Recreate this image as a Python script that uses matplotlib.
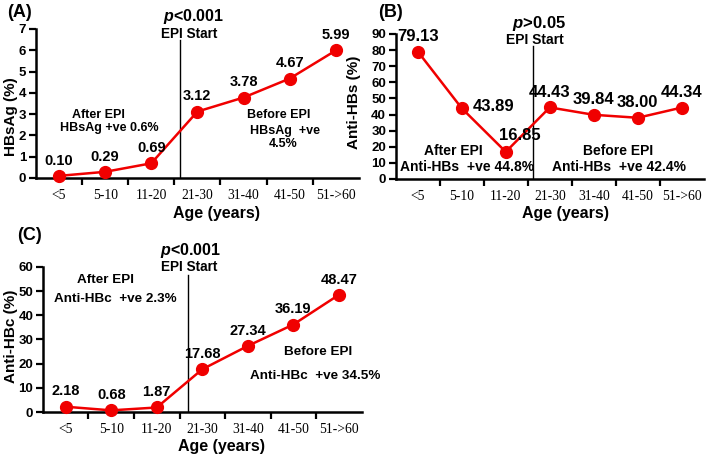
import matplotlib
matplotlib.use("Agg")
import matplotlib.pyplot as plt

plt.rcParams['font.family'] = ['Liberation Sans', 'DejaVu Sans']
plt.rcParams['font.weight'] = 'bold'
plt.rcParams['mathtext.fontset'] = 'custom'
plt.rcParams['mathtext.it'] = 'Liberation Sans:italic:bold'
plt.rcParams['mathtext.rm'] = 'Liberation Sans:bold'

# data
age_groups = ["<5", "5-10", "11-20", "21-30", "31-40", "41-50", "51->60"]
hbsag = [0.10, 0.29, 0.69, 3.12, 3.78, 4.67, 5.99]
anti_hbs = [79.13, 43.89, 16.85, 44.43, 39.84, 38.00, 44.34]
anti_hbc = [2.18, 0.68, 1.87, 17.68, 27.34, 36.19, 48.47]

RED = "#F00000"

fig = plt.figure(figsize=(7.08, 4.55), dpi=100)
axA = fig.add_axes([0.0508, 0.6088, 0.456, 0.3275])
axB = fig.add_axes([0.559, 0.6066, 0.435, 0.3187])
axC = fig.add_axes([0.0607, 0.0945, 0.450, 0.3187])


def style_axis(ax, ymax, ystep, ylabel, ylab_xy, xlab_x):
    x = range(len(age_groups))
    ax.set_xlim(-0.5, 6.5)
    ax.set_ylim(0, ymax)
    ax.set_yticks(range(0, ymax + 1, ystep))
    ax.set_xticks(list(x))
    ax.set_xticklabels(age_groups, fontfamily='Liberation Serif',
                       fontweight='normal', fontsize=9.8)
    ax.set_xticks([k + 0.5 for k in range(6)], minor=True)
    ax.tick_params(axis='x', which='major', length=0, pad=8)
    ax.tick_params(axis='x', which='minor', length=5, width=1.6,
                   direction='out')
    ax.tick_params(axis='y', length=5, width=1.6, direction='out',
                   labelsize=9.5, pad=2)
    for s in ['top', 'right']:
        ax.spines[s].set_visible(False)
    for s in ['left', 'bottom']:
        ax.spines[s].set_linewidth(1.8)
    ax.set_ylabel(ylabel, fontsize=11, fontweight='bold')
    ax.yaxis.set_label_coords(*ylab_xy)
    ax.set_xlabel("Age (years)", fontsize=11.5, fontweight='bold')
    ax.xaxis.set_label_coords(xlab_x, -0.185)


def draw_series(ax, vals, fs, offsets=None):
    x = list(range(len(vals)))
    ax.plot(x, vals, color=RED, lw=1.8, marker='o', ms=8.5, clip_on=False,
            zorder=3)
    for i, v in enumerate(vals):
        dx, dy, ha = (0, 11, 'center')
        if offsets and i in offsets:
            dx, dy, ha = offsets[i]
        ax.annotate(f"{v:.2f}", (i, v), xytext=(dx, dy),
                    textcoords='offset points', ha=ha, va='center',
                    fontsize=fs, fontweight='bold', annotation_clip=False)


# (A)
style_axis(axA, 7, 1, "HBsAg (%)", (-0.055, 0.41), 0.56)
draw_series(axA, hbsag, 10.5)
axA.plot([2.63, 2.63], [0, 6.5], color='black', lw=1)
axA.text(2.92, 7.6, r"$p$<0.001", ha='center', va='center', fontsize=11.5,
         clip_on=False)
axA.text(2.83, 6.75, "EPI Start", ha='center', va='center', fontsize=9.8,
         clip_on=False)
axA.text(0.85, 2.96, "After EPI", ha='center', va='center', fontsize=9)
axA.text(1.09, 2.35, "HBsAg +ve 0.6%", ha='center', va='center', fontsize=9)
axA.text(4.76, 2.96, "Before EPI", ha='center', va='center', fontsize=9)
axA.text(4.91, 2.2, "HBsAg  +ve", ha='center', va='center', fontsize=9)
axA.text(4.85, 1.6, "4.5%", ha='center', va='center', fontsize=9)

# (B)
style_axis(axB, 90, 10, "Anti-HBs (%)", (-0.114, 0.53), 0.55)
draw_series(axB, anti_hbs, 12, offsets={1: (8, 1, 'left'),
                                        2: (-5, 12, 'left')})
axB.plot([2.61, 2.61], [0, 82.6], color='black', lw=1)
axB.text(2.76, 96.8, r"$p$>0.05", ha='center', va='center', fontsize=12,
         clip_on=False)
axB.text(2.67, 86.3, "EPI Start", ha='center', va='center', fontsize=10)
axB.text(0.81, 17.4, "After EPI", ha='center', va='center', fontsize=10)
axB.text(1.12, 7.5, "Anti-HBs  +ve 44.8%", ha='center', va='center',
         fontsize=10)
axB.text(4.56, 17.4, "Before EPI", ha='center', va='center', fontsize=10)
axB.text(4.58, 7.5, "Anti-HBs  +ve 42.4%", ha='center', va='center',
         fontsize=10)

# (C)
style_axis(axC, 60, 10, "Anti-HBc (%)", (-0.078, 0.52), 0.56)
draw_series(axC, anti_hbc, 10.5)
axC.plot([2.68, 2.68], [0, 56.7], color='black', lw=1)
axC.text(2.74, 67, r"$p$<0.001", ha='center', va='center', fontsize=11.5,
         clip_on=False)
axC.text(2.72, 60, "EPI Start", ha='center', va='center', fontsize=9.8,
         clip_on=False)
axC.text(0.88, 54.6, "After EPI", ha='center', va='center', fontsize=9.7)
axC.text(1.08, 46.8, "Anti-HBc  +ve 2.3%", ha='center', va='center',
         fontsize=9.7)
axC.text(5.55, 24.8, "Before EPI", ha='center', va='center', fontsize=9.7)
axC.text(4.05, 14.9, "Anti-HBc  +ve 34.5%", ha='left', va='center',
         fontsize=9.7)

# panel letters
fig.text(7 / 708, 1 - 4 / 455, "(A)", fontsize=13, fontweight='bold',
         va='top', ha='left')
fig.text(378 / 708, 1 - 4 / 455, "(B)", fontsize=13, fontweight='bold',
         va='top', ha='left')
fig.text(17 / 708, 1 - 227 / 455, "(C)", fontsize=13, fontweight='bold',
         va='top', ha='left')

fig.savefig("out.png", dpi=100)
